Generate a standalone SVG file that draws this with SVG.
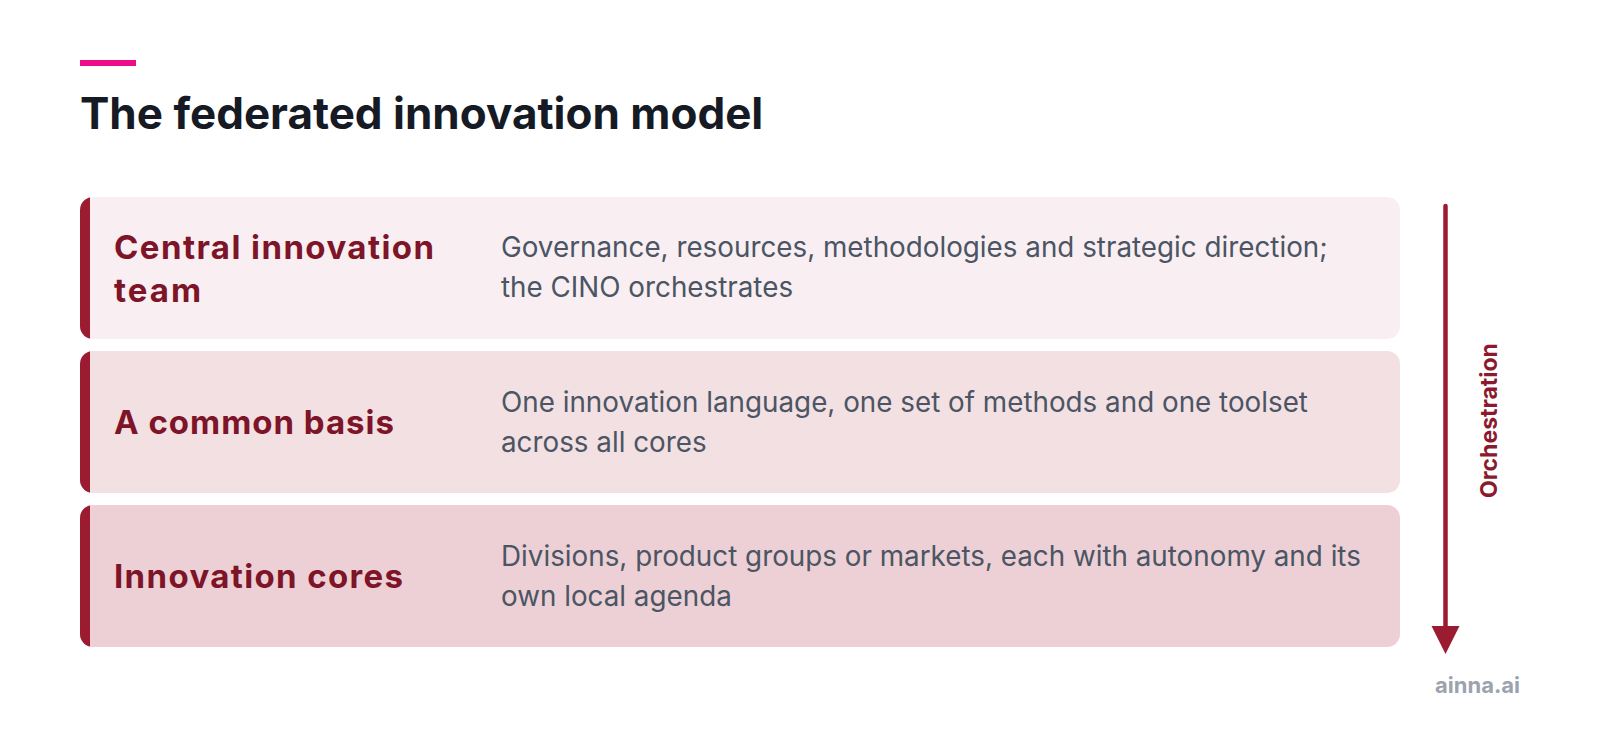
<svg xmlns="http://www.w3.org/2000/svg" width="1600" height="743" viewBox="0 0 1600 743">
<style>
.title{font-family:Inter,"Noto Sans",sans-serif;font-weight:700;font-size:44px;fill:#161A24}
.lab{font-family:Inter,"Noto Sans",sans-serif;font-weight:700;font-size:33px;fill:#7D1428}
.desc{font-family:Inter,"Noto Sans",sans-serif;font-size:27.8px;fill:#4B5563}
.bar{fill:#9B1B30}
.orch{font-family:Inter,"Noto Sans",sans-serif;font-weight:700;font-size:23px;fill:#8B1A2E}
.brand{font-family:Inter,"Noto Sans",sans-serif;font-weight:700;font-size:22px;fill:#9CA3AF}
</style>
<defs>
<clipPath id="c1"><rect x="80" y="197" width="1320" height="142" rx="13"/></clipPath>
<clipPath id="c2"><rect x="80" y="351" width="1320" height="142" rx="13"/></clipPath>
<clipPath id="c3"><rect x="80" y="505" width="1320" height="142" rx="13"/></clipPath>
</defs>
<rect width="1600" height="743" fill="#FFFFFF"/>
<rect x="80" y="60" width="56" height="6" fill="#EC0C8C"/>
<text class="title" x="80" y="129">The federated innovation model</text>
<g id="central">
<rect x="80" y="197" width="1320" height="142" rx="13" fill="#F9EFF2"/>
<rect class="bar" x="80" y="197" width="10" height="142" clip-path="url(#c1)"/>
<text class="lab" x="114" y="259" textLength="320" lengthAdjust="spacing">Central innovation</text>
<text class="lab" x="114" y="302" textLength="87" lengthAdjust="spacing">team</text>
<text class="desc" x="501" y="257">Governance, resources, methodologies and strategic direction;</text>
<text class="desc" x="501" y="297">the CINO orchestrates</text>
</g>
<g id="basis">
<rect x="80" y="351" width="1320" height="142" rx="13" fill="#F3E0E3"/>
<rect class="bar" x="80" y="351" width="10" height="142" clip-path="url(#c2)"/>
<text class="lab" x="114" y="434" textLength="280" lengthAdjust="spacing">A common basis</text>
<text class="desc" x="501" y="412">One innovation language, one set of methods and one toolset</text>
<text class="desc" x="501" y="452">across all cores</text>
</g>
<g id="cores">
<rect x="80" y="505" width="1320" height="142" rx="13" fill="#EDD0D5"/>
<rect class="bar" x="80" y="505" width="10" height="142" clip-path="url(#c3)"/>
<text class="lab" x="114" y="588" textLength="289" lengthAdjust="spacing">Innovation cores</text>
<text class="desc" x="501" y="566">Divisions, product groups or markets, each with autonomy and its</text>
<text class="desc" x="501" y="606">own local agenda</text>
</g>
<g id="connectors">
<line x1="1445.5" y1="206" x2="1445.5" y2="630" stroke="#9B1B30" stroke-width="4.5" stroke-linecap="round"/>
<polygon points="1431.5,626 1459.5,626 1445.5,654" fill="#9B1B30"/>
</g>
<text class="orch" transform="translate(1497,420.5) rotate(-90)" text-anchor="middle">Orchestration</text>
<text class="brand" x="1520" y="693" text-anchor="end">ainna.ai</text>
</svg>
